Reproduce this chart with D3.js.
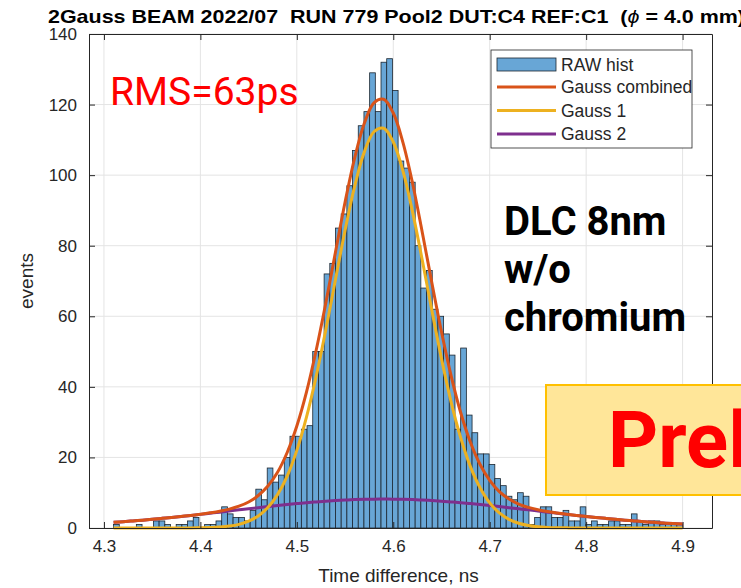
<!DOCTYPE html>
<html>
<head>
<meta charset="utf-8">
<script src="https://cdn.jsdelivr.net/npm/d3@7"></script>
<style>
  body { margin: 0; background: #fff; }
  svg { display: block; }
  text { font-family: "Liberation Sans", Arial, sans-serif; white-space: pre; }
</style>
</head>
<body>
<div id="chart"></div>
<script>

// histogram: 100 equal bins between binLo and binHi (ns)
var binLo = 4.31, binHi = 4.90;
var counts = [
  1, 0, 0, 0, 1, 0, 0, 2, 2, 1,
  0, 1, 1, 2, 3, 0, 1, 1, 2, 6,
  4, 3, 3, 2, 5, 11, 8, 17, 13, 15,
  20, 26, 26, 28, 29, 50, 50, 72, 75, 85,
  89, 97, 107, 114, 118, 129, 118, 132, 133, 124,
  104, 102, 98, 80, 68, 73, 62, 60, 55, 49,
  28, 51, 32, 27, 21, 21, 18, 14, 12, 9,
  8, 10, 9, 1, 3, 6, 6, 3, 3, 5,
  2, 2, 6, 1, 2, 1, 1, 2, 2, 1,
  1, 4, 2, 1, 2, 2, 1, 1, 1, 1
];

// fit curves every 0.01 ns
var fitX = [
  4.31, 4.32, 4.33, 4.34, 4.35, 4.36, 4.37, 4.38, 4.39, 4.40,
  4.41, 4.42, 4.43, 4.44, 4.45, 4.46, 4.47, 4.48, 4.49, 4.50,
  4.51, 4.52, 4.53, 4.54, 4.55, 4.56, 4.57, 4.58, 4.59, 4.60,
  4.61, 4.62, 4.63, 4.64, 4.65, 4.66, 4.67, 4.68, 4.69, 4.70,
  4.71, 4.72, 4.73, 4.74, 4.75, 4.76, 4.77, 4.78, 4.79, 4.80,
  4.81, 4.82, 4.83, 4.84, 4.85, 4.86, 4.87, 4.88, 4.89, 4.90
];
var gauss1 = [
  0, 0, 0, 0, 0, 0, 0, 0, 0, 0.06,
  0.13, 0.27, 0.54, 1.04, 1.93, 3.43, 5.82, 9.46, 14.7, 22.0,
  31.4, 42.9, 56.1, 70.3, 84.3, 96.9, 106.6, 112.3, 113.3, 109.4,
  101.2, 89.6, 76.0, 61.7, 48.0, 35.7, 25.5, 17.4, 11.4, 7.1,
  4.26, 2.44, 1.34, 0.71, 0.36, 0.17, 0.08, 0.04, 0, 0,
  0, 0, 0, 0, 0, 0, 0, 0, 0, 0
];
var gauss2 = [
  1.60, 1.79, 2.01, 2.23, 2.47, 2.73, 2.99, 3.28, 3.57, 3.86,
  4.18, 4.49, 4.82, 5.14, 5.45, 5.77, 6.08, 6.38, 6.66, 6.93,
  7.18, 7.40, 7.61, 7.78, 7.93, 8.05, 8.13, 8.18, 8.20, 8.18,
  8.13, 8.05, 7.93, 7.78, 7.61, 7.40, 7.18, 6.93, 6.66, 6.38,
  6.08, 5.77, 5.45, 5.14, 4.82, 4.49, 4.18, 3.86, 3.57, 3.28,
  2.99, 2.73, 2.47, 2.23, 2.01, 1.79, 1.60, 1.42, 1.26, 1.12
];
var gaussSum = [
  1.60, 1.79, 2.01, 2.23, 2.47, 2.73, 2.99, 3.28, 3.57, 3.92,
  4.31, 4.76, 5.36, 6.18, 7.38, 9.20, 11.9, 15.8, 21.4, 28.9,
  38.5, 50.3, 63.7, 78.1, 92.3, 104.9, 114.7, 120.5, 121.5, 117.6,
  109.3, 97.7, 83.9, 69.5, 55.6, 43.1, 32.6, 24.3, 18.0, 13.5,
  10.3, 8.21, 6.79, 5.85, 5.18, 4.66, 4.26, 3.90, 3.57, 3.28,
  2.99, 2.73, 2.47, 2.23, 2.01, 1.79, 1.60, 1.42, 1.26, 1.12
];

var xTicks = [4.3, 4.4, 4.5, 4.6, 4.7, 4.8, 4.9];
var yTicks = [0, 20, 40, 60, 80, 100, 120, 140];
var legendLabels = ["RAW hist", "Gauss combined", "Gauss 1", "Gauss 2"];

var barColor = "#68a6d6",
    sumColor = "#d95319",
    g1Color  = "#edb120",
    g2Color  = "#7e2f8e",
    axisColor = "#262626";

// set the dimensions and margins of the graph
var margin = {top: 34, right: 29, bottom: 60, left: 89},
    width  = 741 - margin.left - margin.right,
    height = 588 - margin.top - margin.bottom;

var svg0 = d3.select("#chart").append("svg")
    .attr("width", 741)
    .attr("height", 588);

var svg = svg0.append("g")
    .attr("transform", "translate(" + margin.left + "," + margin.top + ")");

// scales
var x = d3.scaleLinear()
          .domain([4.2845, 4.9305])
          .range([0, width]);
var y = d3.scaleLinear()
          .domain([0, 140])
          .range([height, 0]);

// grid
svg.append("g").selectAll("line")
    .data(xTicks)
  .enter().append("line")
    .attr("x1", function(d) { return x(d); })
    .attr("x2", function(d) { return x(d); })
    .attr("y1", 0).attr("y2", height)
    .attr("stroke", "#e4e4e4");
svg.append("g").selectAll("line")
    .data(yTicks)
  .enter().append("line")
    .attr("y1", function(d) { return y(d); })
    .attr("y2", function(d) { return y(d); })
    .attr("x1", 0).attr("x2", width)
    .attr("stroke", "#e4e4e4");

// histogram bars
var bw = (binHi - binLo) / counts.length;

svg.selectAll(".bar")
    .data(counts)
  .enter().append("rect")
    .attr("class", "bar")
    .attr("x", function(d, i) { return x(binLo + i * bw); })
    .attr("width", x(binLo + bw) - x(binLo))
    .attr("y", function(d) { return y(d); })
    .attr("height", function(d) { return height - y(d); })
    .attr("fill", barColor)
    .attr("stroke", "#1c2630")
    .attr("stroke-width", 0.8);

// fit curves
function curveLine(vals) {
  return d3.line()
    .x(function(d, i) { return x(fitX[i]); })
    .y(function(d) { return y(d); })
    .curve(d3.curveCatmullRom)(vals);
}
[[gauss2, g2Color], [gauss1, g1Color], [gaussSum, sumColor]].forEach(function(c) {
  svg.append("path")
      .attr("d", curveLine(c[0]))
      .attr("fill", "none")
      .attr("stroke", c[1])
      .attr("stroke-width", 3);
});

// axes box with inward ticks on all sides
var axB = svg.append("g")
    .attr("transform", "translate(0," + height + ")")
    .call(d3.axisBottom(x).tickValues(xTicks).tickSizeInner(-6).tickSizeOuter(0).tickPadding(12)
      .tickFormat(d3.format(".1f")));
var axT = svg.append("g")
    .call(d3.axisTop(x).tickValues(xTicks).tickSizeInner(-6).tickSizeOuter(0).tickFormat(""));
var axL = svg.append("g")
    .call(d3.axisLeft(y).tickValues(yTicks).tickSizeInner(-6).tickSizeOuter(0).tickPadding(12));
var axR = svg.append("g")
    .attr("transform", "translate(" + width + ",0)")
    .call(d3.axisRight(y).tickValues(yTicks).tickSizeInner(-6).tickSizeOuter(0).tickFormat(""));

[axB, axT, axL, axR].forEach(function(a) {
  a.selectAll("path, line").attr("stroke", axisColor);
  a.selectAll("text")
    .attr("fill", axisColor)
    .style("font-size", "17px")
    .style("font-family", "Liberation Sans, Arial, sans-serif");
});

// axis labels
svg0.append("text")
    .attr("x", margin.left + width / 2 - 2)
    .attr("y", 582)
    .attr("text-anchor", "middle")
    .attr("fill", axisColor)
    .style("font-size", "19px")
    .text("Time difference, ns");
svg0.append("text")
    .attr("transform", "translate(33," + (margin.top + height / 2) + ") rotate(-90)")
    .attr("text-anchor", "middle")
    .attr("fill", axisColor)
    .style("font-size", "19px")
    .text("events");

// title
var title = svg0.append("text")
    .attr("x", 48)
    .attr("y", 23)
    .attr("textLength", 697)
    .attr("lengthAdjust", "spacingAndGlyphs")
    .style("font-size", "19px")
    .style("font-weight", "bold")
    .attr("fill", "#000");
title.append("tspan").text("2Gauss BEAM 2022/07  RUN 779 Pool2 DUT:C4 REF:C1  (");
title.append("tspan").style("font-style", "italic").style("font-weight", "normal").text("\u03d5");
title.append("tspan").text(" = 4.0 mm)");

// legend
var leg = svg0.append("g").attr("transform", "translate(491,50)");
leg.append("rect")
    .attr("width", 201).attr("height", 98)
    .attr("fill", "#fff")
    .attr("stroke", axisColor)
    .attr("stroke-width", 0.8);
var rowY = [14.5, 37, 60.5, 84];
legendLabels.forEach(function(lab, i) {
  if (i === 0) {
    leg.append("rect")
        .attr("x", 6).attr("y", rowY[i] - 6.5)
        .attr("width", 59).attr("height", 13)
        .attr("fill", barColor)
        .attr("stroke", "#1c2630").attr("stroke-width", 0.8);
  } else {
    leg.append("line")
        .attr("x1", 6).attr("x2", 65)
        .attr("y1", rowY[i]).attr("y2", rowY[i])
        .attr("stroke", [null, sumColor, g1Color, g2Color][i])
        .attr("stroke-width", 3);
  }
  leg.append("text")
      .attr("x", 70).attr("y", rowY[i] + 6)
      .attr("fill", axisColor)
      .style("font-size", "17.5px")
      .text(lab);
});

// slide annotations
svg0.append("text")
    .attr("x", 110).attr("y", 105)
    .attr("fill", "#ff0000")
    .style("font-family", "Roboto, sans-serif")
    .style("font-size", "39px")
    .text("RMS=63ps");

var note = svg0.append("text")
    .attr("fill", "#000")
    .style("font-family", "Roboto, sans-serif")
    .style("font-weight", "bold")
    .style("font-size", "40px");
["DLC 8nm", "w/o", "chromium"].forEach(function(t, i) {
  note.append("tspan").attr("x", 504).attr("y", 235 + i * 48).text(t);
});

svg0.append("rect")
    .attr("x", 546).attr("y", 385)
    .attr("width", 220).attr("height", 110)
    .attr("fill", "#ffe699")
    .attr("stroke", "#ffc000")
    .attr("stroke-width", 2);
svg0.append("text")
    .attr("x", 608).attr("y", 467)
    .attr("fill", "#ff0000")
    .style("font-family", "Roboto, sans-serif")
    .style("font-weight", "bold")
    .style("font-size", "78px")
    .text("Preliminary");

</script>
</body>
</html>
